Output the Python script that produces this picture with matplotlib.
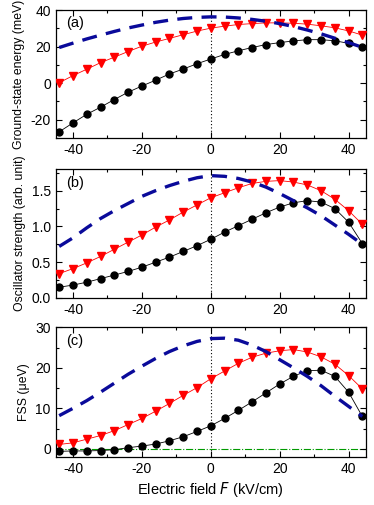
import numpy as np
import matplotlib
matplotlib.use('Agg')
import matplotlib.pyplot as plt
from matplotlib.ticker import MultipleLocator

plt.rcParams['font.family'] = ['Liberation Sans', 'DejaVu Sans']
plt.rcParams['axes.unicode_minus'] = False

# electric field (kV/cm)
field = np.arange(-44, 45, 4)

# (a) ground-state energy (meV)
energy_black = [-26.7, -21.8, -17.1, -13.2, -9.0, -5.0, -1.6, 1.6, 5.0, 7.7, 10.6, 13.2,
                15.7, 17.7, 19.5, 21.1, 22.2, 23.1, 23.8, 23.8, 23.2, 21.8, 19.6]
energy_red = [0.2, 4.1, 7.6, 11.2, 14.2, 17.3, 20.2, 22.5, 24.5, 26.5, 28.5, 30.1,
              31.2, 32.1, 32.6, 33.0, 33.0, 32.8, 32.3, 31.4, 30.3, 28.6, 26.3]
energy_blue = [19.5, 21.9, 24.2, 26.3, 28.3, 30.2, 31.8, 33.3, 34.5, 35.4, 36.0, 36.3,
               36.2, 35.7, 34.9, 33.9, 32.6, 31.0, 29.1, 27.0, 24.6, 22.2, 19.6]

# (b) oscillator strength (arb. unit)
osc_black = [0.15, 0.18, 0.22, 0.27, 0.32, 0.37, 0.43, 0.50, 0.57, 0.65, 0.73, 0.82,
             0.92, 1.01, 1.10, 1.19, 1.27, 1.33, 1.36, 1.34, 1.25, 1.06, 0.76]
osc_red = [0.34, 0.41, 0.49, 0.58, 0.68, 0.78, 0.88, 0.99, 1.09, 1.20, 1.30, 1.40,
           1.47, 1.54, 1.60, 1.63, 1.64, 1.62, 1.58, 1.50, 1.38, 1.22, 1.03]
osc_blue = [0.72, 0.84, 0.98, 1.11, 1.22, 1.32, 1.42, 1.50, 1.57, 1.63, 1.68, 1.71,
            1.70, 1.67, 1.62, 1.55, 1.46, 1.36, 1.26, 1.15, 1.02, 0.89, 0.75]

# (c) FSS (ueV)
fss_black = [-0.6, -0.5, -0.5, -0.4, -0.2, 0.3, 0.7, 1.2, 2.0, 3.0, 4.3, 5.7,
             7.5, 9.5, 11.6, 13.8, 16.0, 17.9, 19.3, 19.4, 17.9, 14.0, 8.0]
fss_red = [1.1, 1.5, 2.4, 3.3, 4.5, 6.0, 7.5, 9.3, 11.2, 13.2, 15.1, 17.3,
           19.2, 21.1, 22.6, 23.6, 24.2, 24.5, 23.9, 22.7, 20.9, 18.1, 14.8]
fss_blue = [8.2, 10.0, 11.9, 14.0, 16.2, 18.4, 20.4, 22.3, 24.0, 25.4, 26.5, 27.2,
            27.3, 26.8, 25.6, 24.0, 22.0, 20.0, 17.9, 15.6, 13.0, 10.5, 8.0]

fig = plt.figure(figsize=(3.74, 5.05), dpi=100)
ax_a = fig.add_axes([0.149, 0.727, 0.829, 0.253])
ax_b = fig.add_axes([0.149, 0.410, 0.829, 0.255])
ax_c = fig.add_axes([0.149, 0.095, 0.829, 0.257])

panels = [
    (ax_a, energy_black, energy_red, energy_blue, (-30, 40), 20, 10, '(a)', 'Ground-state energy (meV)'),
    (ax_b, osc_black, osc_red, osc_blue, (0, 1.8), 0.5, 0.25, '(b)', 'Oscillator strength (arb. unit)'),
    (ax_c, fss_black, fss_red, fss_blue, (-2, 30), 10, 5, '(c)', 'FSS (\u03bceV)'),
]

for ax, yb, yr, yblue, ylim, major, minor, tag, ylabel in panels:
    ax.axvline(0, color='black', ls=(0, (1, 2)), lw=0.8, zorder=1)
    if tag == '(c)':
        ax.axhline(0, color='#009a00', ls='-.', lw=0.8, zorder=1)
    ax.plot(field, yr, color='red', lw=0.6, marker='v', ms=5.5, mec='red', zorder=3)
    ax.plot(field, yb, color='black', lw=0.6, marker='o', ms=5, zorder=3)
    ax.plot(field, yblue, color='#0a0a9a', lw=2.4, ls=(0, (4.5, 2.8)), zorder=4)
    ax.set_xlim(-45, 45)
    ax.set_ylim(*ylim)
    ax.xaxis.set_major_locator(MultipleLocator(20))
    ax.xaxis.set_minor_locator(MultipleLocator(10))
    ax.yaxis.set_major_locator(MultipleLocator(major))
    ax.yaxis.set_minor_locator(MultipleLocator(minor))
    ax.tick_params(which='both', direction='in', top=True, right=True, labelsize=10, width=0.8)
    ax.tick_params(which='major', length=4)
    ax.tick_params(which='minor', length=2.5)
    for s in ax.spines.values():
        s.set_linewidth(0.9)
    ax.text(0.035, 0.95, tag, transform=ax.transAxes, ha='left', va='top', fontsize=10.5)
    ax.set_ylabel(ylabel, fontsize=8.8, labelpad=4)

ax_b.yaxis.set_major_formatter(matplotlib.ticker.FormatStrFormatter('%.1f'))
ax_c.set_xlabel('Electric field $\\it{F}$ (kV/cm)', fontsize=10.5, labelpad=3)

fig.savefig('out.png', dpi=100)
